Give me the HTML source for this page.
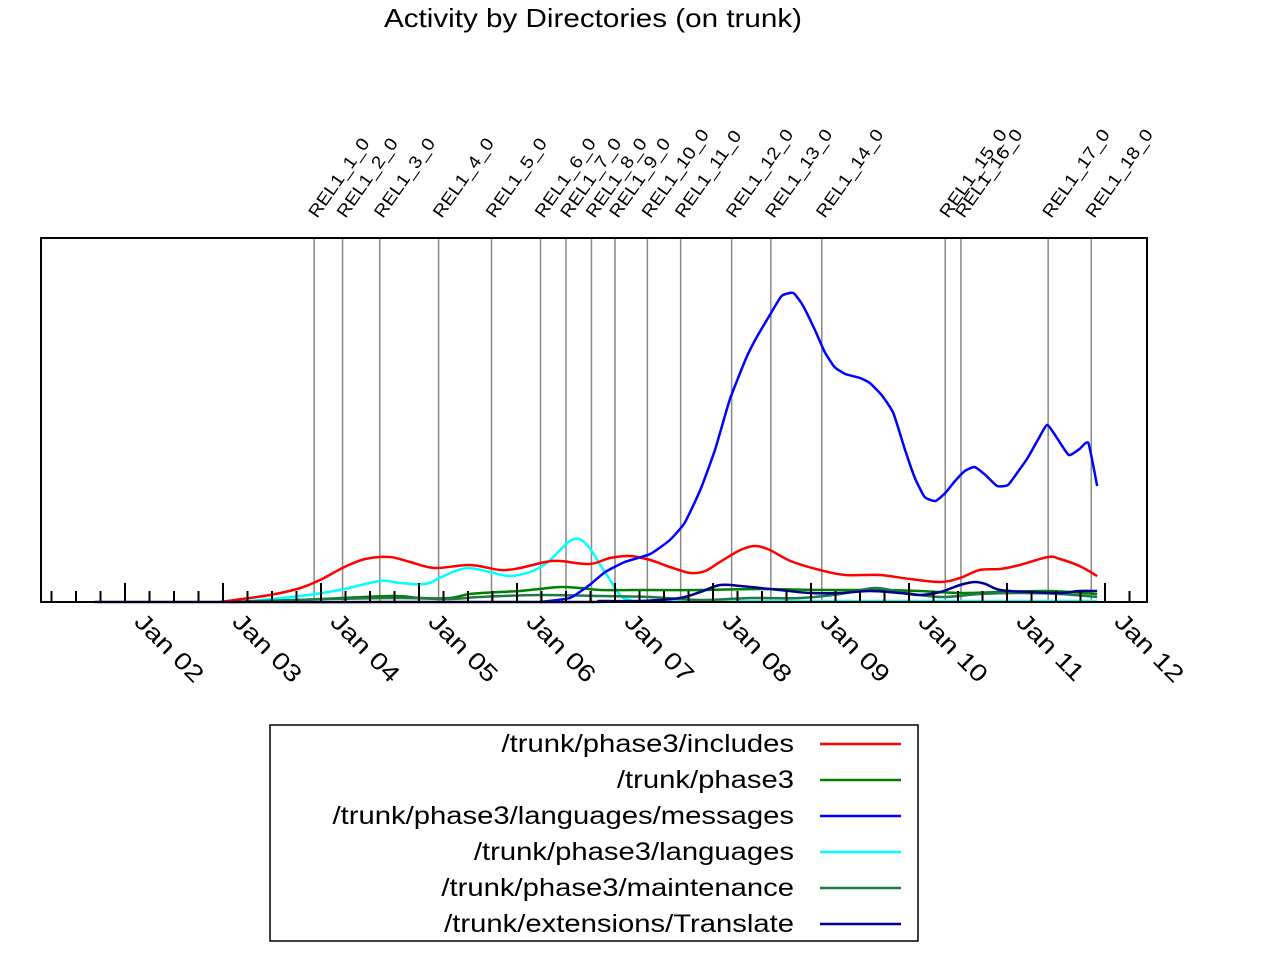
<!DOCTYPE html>
<html><head><meta charset="utf-8"><style>
body{margin:0;background:#fff}
svg{display:block;font-family:"Liberation Sans",Arial,sans-serif}
</style></head><body>
<svg id="chart" width="1280" height="960" viewBox="0 0 1280 960">
<rect width="1280" height="960" fill="#fff"/>
<text x="0" y="0" font-size="26" text-anchor="middle" transform="translate(593,27) scale(1.14,1)">Activity by Directories (on trunk)</text>
<g id="rels"></g>
<g id="series"></g>
<rect x="41" y="238" width="1106" height="364" fill="none" stroke="#000" stroke-width="2"/>
<g id="axis"></g>
<g>
<rect x="270" y="725" width="648" height="216" fill="#fff" stroke="#000" stroke-width="1.5"/>
<g id="legend"></g>
</g>
</svg>
<script>
const BASE = 2002;
const yearLabels = ["Jan 02","Jan 03","Jan 04","Jan 05","Jan 06","Jan 07","Jan 08","Jan 09","Jan 10","Jan 11","Jan 12"];
const releaseNames = ["REL1_1_0","REL1_2_0","REL1_3_0","REL1_4_0","REL1_5_0","REL1_6_0","REL1_7_0","REL1_8_0","REL1_9_0","REL1_10_0","REL1_11_0","REL1_12_0","REL1_13_0","REL1_14_0","REL1_15_0","REL1_16_0","REL1_17_0","REL1_18_0"];
const releaseTimes = [1.93,2.22,2.60,3.20,3.74,4.24,4.50,4.76,5.00,5.33,5.67,6.19,6.59,7.11,8.37,8.53,9.42,9.86];
const seriesNames = ["/trunk/phase3/includes","/trunk/phase3","/trunk/phase3/languages/messages","/trunk/phase3/languages","/trunk/phase3/maintenance","/trunk/extensions/Translate"];
const seriesColors = ["#ff0000","#008000","#0000ff","#00ffff","#1e7a4a","#000090"];
const includesT = [0.97,1.48,1.79,1.99,2.24,2.45,2.70,2.91,3.16,3.52,3.83,4.03,4.29,4.44,4.74,4.95,5.15,5.36,5.56,5.77,5.92,6.07,6.28,6.43,6.58,6.79,7.09,7.35,7.70,8.01,8.32,8.52,8.72,8.93,9.13,9.42,9.54,9.74,9.92];
const includesV = [0,7,14,22,35,43,45,40,34,37,32,34,40,41,38,44,46,42,35,29,31,40,52,56,52,41,32,27,27,23,20,24,32,33,37,45,43,36,26];
const phase3T = [1.07,1.79,2.70,3.01,3.32,3.52,3.83,4.03,4.23,4.44,4.64,4.85,5.26,5.87,6.48,7.09,7.70,8.11,8.52,8.93,9.44,9.92];
const phase3V = [0,2,6,4,4,8,10,11,13,15,14,12,12,12,13,12,12,11,9,10,11,8];
const messagesT = [4.23,4.54,4.74,4.90,5.10,5.36,5.56,5.71,5.87,6.02,6.17,6.33,6.43,6.58,6.70,6.82,6.92,7.04,7.14,7.24,7.35,7.50,7.60,7.72,7.84,7.96,8.06,8.16,8.27,8.37,8.47,8.57,8.67,8.78,8.90,9.01,9.11,9.21,9.32,9.41,9.51,9.63,9.74,9.83,9.92];
const messagesV = [0,4,17,30,40,48,62,79,112,152,202,242,262,287,306,309,296,272,250,235,228,224,219,207,189,152,124,105,101,109,121,131,135,127,116,117,130,144,163,177,164,147,153,159,116];
const languagesT = [1.17,1.79,2.19,2.60,2.81,3.06,3.21,3.37,3.52,3.72,3.93,4.13,4.29,4.44,4.54,4.64,4.74,4.85,4.95,5.05,5.15,5.36,6.89,9.92];
const languagesV = [0,6,12,21,19,18,24,31,34,30,26,30,38,52,61,63,54,37,22,7,2,1,1,1];
const maintT = [1.07,2.09,2.81,3.32,3.62,4.23,4.85,5.36,5.87,6.38,6.89,7.30,7.65,7.91,8.32,8.72,9.13,9.54,9.92];
const maintV = [0,3,4,3,5,7,6,5,2,4,4,8,14,10,5,8,9,8,5];
const translateT = [-0.31,4.44,4.85,5.26,5.66,5.87,6.07,6.28,6.48,6.68,6.99,7.30,7.60,7.91,8.11,8.32,8.52,8.67,8.78,8.93,9.23,9.54,9.74,9.92];
const translateV = [0,0,1,1,4,10,17,16,14,12,9,9,11,9,7,10,17,20,18,12,10,9,11,11];

const NS="http://www.w3.org/2000/svg";
function X(t){return 125+t*98;}
function Y(v){return 602-v*(364/364);}
function mk(tag,attrs,parent){const e=document.createElementNS(NS,tag);for(const k in attrs)e.setAttribute(k,attrs[k]);parent.appendChild(e);return e;}

const rels=document.getElementById('rels');
releaseTimes.forEach((t,i)=>{
  const x=X(t);
  const l=mk('line',{x1:x,x2:x,y1:238,y2:602,stroke:'#888','stroke-width':1.5},rels);
  
  
  const tx=mk('text',{x:0,y:0,'font-size':17.5,transform:`translate(${x+3},219) rotate(-55) scale(1.12,1)`},rels);
  tx.textContent=releaseNames[i];
  
  
});

function path(ts,vs,tension){
  const p=ts.map((t,i)=>[X(t),Y(vs[i])]);
  let d=`M${p[0][0]},${p[0][1]}`;
  for(let i=0;i<p.length-1;i++){
    const p0=p[Math.max(0,i-1)],p1=p[i],p2=p[i+1],p3=p[Math.min(p.length-1,i+2)];
    const c1=[p1[0]+(p2[0]-p0[0])/tension,p1[1]+(p2[1]-p0[1])/tension];
    const c2=[p2[0]-(p3[0]-p1[0])/tension,p2[1]-(p3[1]-p1[1])/tension];
    d+=`C${c1[0]},${c1[1]} ${c2[0]},${c2[1]} ${p2[0]},${p2[1]}`;
  }
  return d;
}
const sg=document.getElementById('series');
const data=[[includesT,includesV],[phase3T,phase3V],[messagesT,messagesV],[languagesT,languagesV],[maintT,maintV],[translateT,translateV]];
const order=[3,1,4,0,5,2];
order.forEach(i=>{
  const el=mk('path',{d:path(data[i][0],data[i][1],i===2?12:6),fill:'none',stroke:seriesColors[i],'stroke-width':2.5},sg);
  
  
});

const ax=document.getElementById('axis');
for(let k=-3;k<=42;k++){
  const t=k/4, x=X(t);
  if(x<42||x>1146)continue;
  const major=k%4===0;
  const tk=mk('line',{x1:x,x2:x,y1:602,y2:major?583:591,stroke:'#000','stroke-width':2},ax);
  
  
}
yearLabels.forEach((s,i)=>{
  const x=X(i)+8;
  const tx=mk('text',{x:0,y:0,'font-size':24,transform:`translate(${x},623) rotate(45) scale(1.2,1)`},ax);
  tx.textContent=s;
  
  
});

const lg=document.getElementById('legend');
seriesNames.forEach((s,i)=>{
  const y=743+i*36;
  const tx=mk('text',{x:0,y:0,'font-size':25,'text-anchor':'end',transform:`translate(794,${y+9}) scale(1.17,1)`},lg);
  tx.textContent=s;
  
  
  const l=mk('line',{x1:820,x2:901,y1:y+1,y2:y+1,stroke:seriesColors[i],'stroke-width':2.5},lg);
  
  
});
</script>
</body></html>
